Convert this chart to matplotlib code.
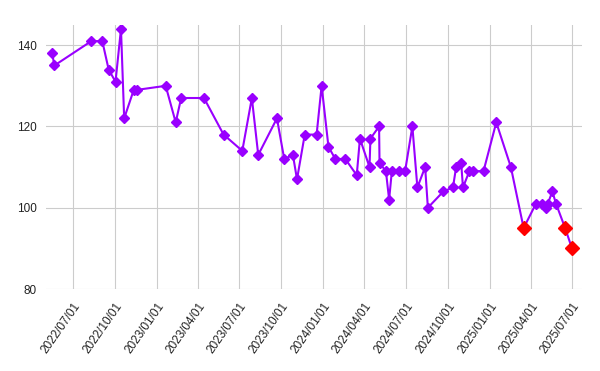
import matplotlib
matplotlib.use("Agg")
import matplotlib.pyplot as plt
import numpy as np
import pandas as pd

plt.rcParams['font.family'] = ['Liberation Sans', 'DejaVu Sans']

# dados
datas = [
    "2022-05-17", "2022-05-22", "2022-08-11", "2022-09-04", "2022-09-18",
    "2022-10-03", "2022-10-15", "2022-10-22", "2022-11-12", "2022-11-19",
    "2023-01-21", "2023-02-12", "2023-02-24", "2023-04-15", "2023-05-28",
    "2023-07-08", "2023-07-29", "2023-08-12", "2023-09-22", "2023-10-08",
    "2023-10-27", "2023-11-05", "2023-11-22", "2023-12-18", "2023-12-29",
    "2024-01-13", "2024-01-28", "2024-02-19", "2024-03-15", "2024-03-22",
    "2024-04-12", "2024-04-14", "2024-05-03", "2024-05-04", "2024-05-18",
    "2024-05-25", "2024-05-31", "2024-06-15", "2024-06-29", "2024-07-15",
    "2024-07-26", "2024-08-12", "2024-08-18", "2024-09-21", "2024-10-12",
    "2024-10-19", "2024-10-30", "2024-11-03", "2024-11-17", "2024-11-26",
    "2024-12-18", "2025-01-15", "2025-02-16", "2025-03-16", "2025-04-12",
    "2025-04-26", "2025-05-04", "2025-05-08", "2025-05-18", "2025-05-26",
    "2025-06-15", "2025-06-30",
]
valores = [
    138, 135, 141, 141, 134,
    131, 144, 122, 129, 129,
    130, 121, 127, 127, 118,
    114, 127, 113, 122, 112,
    113, 107, 118, 118, 130,
    115, 112, 112, 108, 117,
    110, 117, 120, 111, 109,
    102, 109, 109, 109, 120,
    105, 110, 100, 104, 105,
    110, 111, 105, 109, 109,
    109, 121, 110, 95, 101,
    101, 100, 101, 104, 101,
    95, 90,
]
limite_destaque = 100
yticks = [80, 100, 120, 140]
xticks = ["2022-07-01", "2022-10-01", "2023-01-01", "2023-04-01", "2023-07-01",
          "2023-10-01", "2024-01-01", "2024-04-01", "2024-07-01", "2024-10-01",
          "2025-01-01", "2025-04-01", "2025-07-01"]

x = pd.to_datetime(datas)
y = np.array(valores)
destaque = y < limite_destaque

fig = plt.figure(figsize=(6, 3.71), dpi=100)
ax = fig.add_axes([0.077, 0.221, 0.893, 0.712])

ax.plot(x, y, color='#9900ff', linewidth=1.5, zorder=3)
ax.plot(x[~destaque], y[~destaque], linestyle='none', marker='D', markersize=5.3,
        color='#9900ff', zorder=4)
ax.plot(x[destaque], y[destaque], linestyle='none', marker='D', markersize=7,
        color='#ff0000', zorder=5)

ax.set_ylim(80, 145)
ax.set_yticks(yticks)
ax.set_xlim(pd.Timestamp("2022-05-04"), pd.Timestamp("2025-07-22"))
xt = pd.to_datetime(xticks)
ax.set_xticks(xt)
ax.set_xticklabels([d.strftime("%Y/%m/%d") for d in xt], rotation=55,
                   ha='right', va='top', rotation_mode='anchor')

ax.grid(True, color='#cccccc', linewidth=0.8)
ax.set_axisbelow(True)
for s in ax.spines.values():
    s.set_visible(False)
ax.tick_params(axis='both', length=0, labelsize=8.5, colors='#222222')
ax.tick_params(axis='x', pad=8)
ax.tick_params(axis='y', pad=7)

fig.savefig("out.png", dpi=100)
plt.close(fig)
